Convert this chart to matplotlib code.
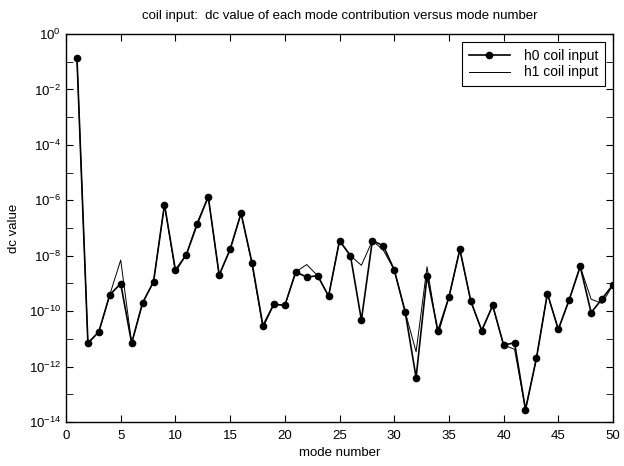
import numpy as np
import matplotlib
matplotlib.use("Agg")
import matplotlib.pyplot as plt
from matplotlib.ticker import FixedLocator, NullFormatter

plt.rcParams['font.family'] = ['Liberation Sans', 'DejaVu Sans']
plt.rcParams['mathtext.fontset'] = 'custom'
plt.rcParams['mathtext.rm'] = 'Liberation Sans'
plt.rcParams['mathtext.it'] = 'Liberation Sans'

# mode numbers and dc values
modes = list(range(1, 51))
h0 = [1.4e-1, 7e-12, 1.8e-11, 3.9e-10, 9.8e-10, 7e-12, 2e-10, 1.15e-9, 7e-7, 3e-9,
      1.1e-8, 1.4e-7, 1.35e-6, 2e-9, 1.7e-8, 3.4e-7, 5.6e-9, 3e-11, 1.8e-10, 1.6e-10,
      2.6e-9, 1.7e-9, 1.9e-9, 3.5e-10, 3.5e-8, 1.0e-8, 4.8e-11, 3.5e-8, 2.3e-8, 3.1e-9,
      9.5e-11, 4e-13, 1.9e-9, 1.9e-11, 3.2e-10, 1.7e-8, 2.3e-10, 2e-11, 1.6e-10, 6e-12,
      7.2e-12, 2.8e-14, 2e-12, 4.3e-10, 2.2e-11, 2.6e-10, 4.1e-9, 8.8e-11, 2.8e-10, 9e-10]
h1 = [1.4e-1, 7e-12, 1.8e-11, 3.9e-10, 7e-9, 7e-12, 2e-10, 1.15e-9, 7e-7, 2.6e-9,
      1.1e-8, 1.6e-7, 1.35e-6, 2e-9, 1.7e-8, 3.4e-7, 5e-9, 2.5e-11, 1.8e-10, 1.6e-10,
      2.6e-9, 4.8e-9, 1.9e-9, 3.5e-10, 3.5e-8, 1.0e-8, 4.5e-9, 3.5e-8, 1.6e-8, 3.1e-9,
      9.5e-11, 3.4e-12, 4e-9, 1.4e-11, 3.2e-10, 1.7e-8, 2.3e-10, 2e-11, 1.6e-10, 6e-12,
      4.2e-12, 2.8e-14, 2e-12, 4.3e-10, 2.2e-11, 2.6e-10, 4.1e-9, 2.7e-10, 1.9e-10, 9e-10]

fig = plt.figure(figsize=(6.24, 4.66), dpi=100)
ax = fig.add_axes([0.1058, 0.0944, 0.8766, 0.8326])

ax.semilogy(modes, h0, color='black', lw=1.2, marker='o', ms=4.5, label='h0 coil input')
ax.semilogy(modes, h1, color='black', lw=0.7, label='h1 coil input')

ax.set_xlim(0, 50)
ax.set_ylim(1e-14, 1)
ax.set_xticks(range(0, 51, 5))
ax.yaxis.set_major_locator(FixedLocator([10.0**k for k in range(-14, 1, 2)]))
ax.yaxis.set_minor_locator(FixedLocator([10.0**k for k in range(-13, 0, 2)]))
ax.yaxis.set_minor_formatter(NullFormatter())
ax.set_yticklabels(['$10^{%d}$' % k for k in range(-14, 1, 2)])

ax.tick_params(which='both', direction='in', top=True, right=True, labelsize=9.5)
ax.tick_params(axis='x', pad=6)
ax.tick_params(which='major', length=5)
ax.tick_params(which='minor', length=5)
for s in ax.spines.values():
    s.set_linewidth(1.0)

ax.set_xlabel('mode number', fontsize=9.5, labelpad=3)
ax.set_ylabel('dc value', fontsize=9.5, labelpad=6)
ax.set_title('coil input:  dc value of each mode contribution versus mode number',
             fontsize=9.5, pad=11)

leg = ax.legend(loc='upper right', fontsize=10, fancybox=False, framealpha=1,
                edgecolor='black', borderaxespad=0.6, handlelength=3.0,
                handletextpad=1.0, borderpad=0.45, labelspacing=0.2)
leg.get_frame().set_linewidth(0.8)

fig.savefig('out.png', dpi=100)
